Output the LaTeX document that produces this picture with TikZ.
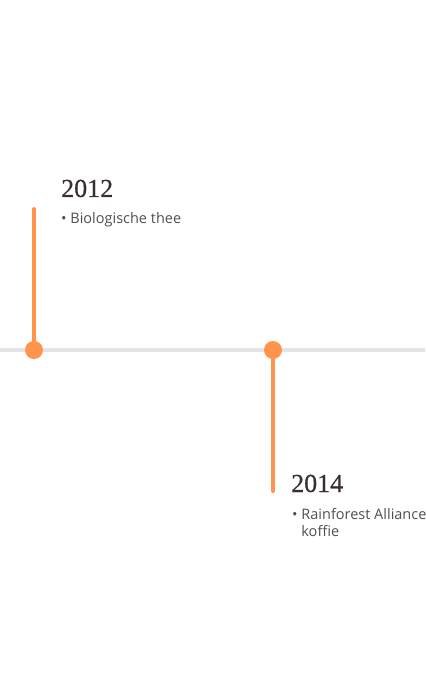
\documentclass[tikz,border=0pt]{standalone}
\usepackage{fontspec}
\setmainfont{Liberation Serif}
\newfontfamily\jaarfont[FakeBold=0.5]{Liberation Serif}
\newfontfamily\itemfont{Open Sans}
\usetikzlibrary{positioning}
\definecolor{oranje}{HTML}{FF944C}
\definecolor{lijngrijs}{HTML}{E4E4E4}
\definecolor{jaarkleur}{HTML}{3A2F2F}
\definecolor{tekstgrijs}{HTML}{505050}
\tikzset{
  punt/.style   = {circle, fill=oranje, inner sep=0pt, minimum size=18pt},
  steel/.style  = {draw=oranje, line width=4pt, line cap=round},
  jaar/.style   = {anchor=base west, inner sep=0pt, text=jaarkleur,
                   font=\jaarfont\fontsize{26}{30}\selectfont},
  item/.style   = {anchor=base west, inner sep=0pt, text=tekstgrijs, align=left,
                   font=\itemfont\fontsize{14.5}{17}\selectfont}
}
\begin{document}
\begin{tikzpicture}[x=1pt, y=-1pt]
    \useasboundingbox[fill=white] (0,0) rectangle (425,700);
    % tijdlijn
    \coordinate (links) at (0,350);
    \coordinate (rechts) at (425,350);
    \draw[draw=lijngrijs, line width=4pt] (links) -- (rechts);

    % 2012
    \node[punt] (p2012) at (34,350) {};
    \coordinate (top2012) at (34,209);
    \draw[steel] (p2012.center) -- (top2012);
    \node[jaar] (j2012) at (61,197) {2012};
    \node[item] (t2012) at (61,224) {\textbullet\ Biologische thee};

    % 2014 (base = laatste regel)
    \node[punt] (p2014) at (273,350) {};
    \coordinate (bodem2014) at (273,491);
    \draw[steel] (p2014.center) -- (bodem2014);
    \node[jaar] (j2014) at (291,492) {2014};
    \node[item] (t2014) at (292,536) {\textbullet\ Rainforest Alliance\\\hphantom{\textbullet\ }koffie};
  \end{tikzpicture}
\end{document}
